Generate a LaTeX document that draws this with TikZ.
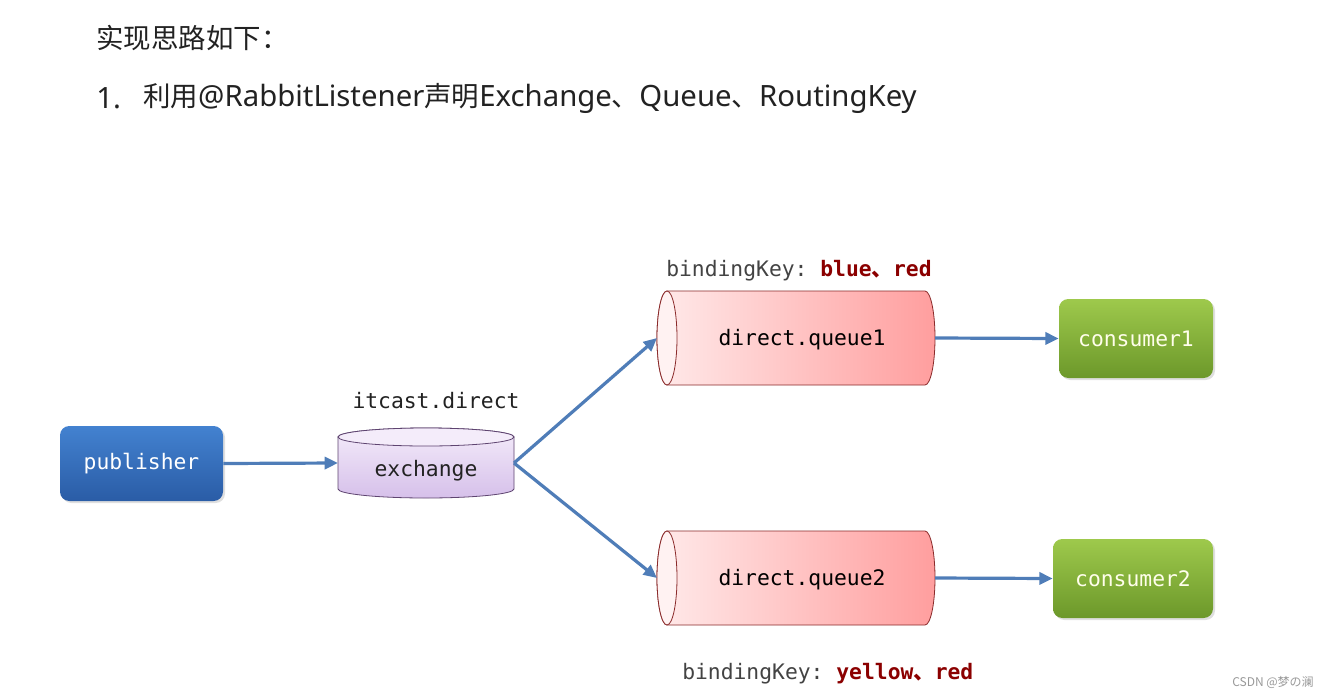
\documentclass[tikz,border=0pt]{standalone}
\usepackage{fontspec}
\setmonofont{DejaVu Sans Mono}
\newfontfamily\cjk{Noto Sans CJK SC}
\newfontfamily\lat{Noto Sans}
\newcommand{\latbig}{\lat\fontsize{22pt}{24pt}\selectfont}
\usetikzlibrary{arrows.meta,shadows}
\definecolor{arrowblue}{HTML}{4F7DB8}
\definecolor{pubtop}{HTML}{4382D0}
\definecolor{pubbot}{HTML}{2A5CA6}
\definecolor{contop}{HTML}{9EC94C}
\definecolor{conbot}{HTML}{6C982A}
\definecolor{exlight}{HTML}{F4ECFA}
\definecolor{exdark}{HTML}{D6C0EA}
\definecolor{exline}{HTML}{5E4470}
\definecolor{qleft}{HTML}{FFEAEA}
\definecolor{qright}{HTML}{FF9E9E}
\definecolor{qline}{HTML}{8A2A2A}
\definecolor{keyred}{HTML}{8B0000}
\definecolor{txt}{HTML}{222222}
\tikzset{
  mono/.style={font=\fontsize{16pt}{18pt}\selectfont\ttfamily},
  boxnode/.style={rounded corners=7pt, mono, text=white,
     drop shadow={opacity=0.25, shadow xshift=1.5pt, shadow yshift=-1.5pt}},
  pubbox/.style={boxnode, top color=pubtop, bottom color=pubbot},
  conbox/.style={boxnode, top color=contop, bottom color=conbot, text=white!92!yellow},
  ghost/.style={inner sep=0pt, outer sep=0pt},
  flow/.style={draw=arrowblue, line width=2.4pt, -{Triangle[length=10pt,width=9pt]}},
  label/.style={mono, text=txt, inner sep=0pt},
  heading/.style={anchor=west, font=\cjk\fontsize{20.6pt}{24pt}\selectfont, text=txt, inner sep=0pt},
}
\begin{document}
\begin{tikzpicture}[x=0.75pt,y=-0.75pt]
\fill[white] (0,0) rectangle (1329,697);
\useasboundingbox (0,0) rectangle (1329,697);

% title
\node[heading] (title) at (96,38) {实现思路如下：};
\node[heading] (num) at (96,98) {\latbig 1.};
\node[heading] (line1) at (143,98) {利用{\latbig @RabbitListener}声明{\latbig Exchange}、{\latbig Queue}、{\latbig RoutingKey}};

% publisher
\node[pubbox, minimum width=122.25pt, minimum height=56.25pt] (pub) at (141.5,463.5) {publisher};

% exchange cylinder
\path[top color=exlight, bottom color=exdark, draw=exline, line width=0.6pt]
  (338,437) -- (338,489) arc (180:0:88 and 9) -- (514,437) arc (0:-180:88 and 9) -- cycle;
\draw[fill=exlight, draw=exline, line width=0.6pt] (426,437) ellipse (88 and 9);
\node[ghost, minimum width=132pt, minimum height=52.5pt] (ex) at (426,463) {};
\node[label] (ext) at (426,471) {exchange};
\node[label] (exname) at (436,401) {itcast.direct};

% queue cylinders
\foreach \y in {338, 578}{
  \path[left color=qleft, right color=qright, draw=qline, line width=0.6pt]
    (667,\y-47) -- (925,\y-47) arc (-90:90:10 and 47) -- (667,\y+47) arc (90:270:10 and 47) -- cycle;
  \draw[fill=qleft!60!white, draw=qline, line width=0.6pt] (667,\y) ellipse (10 and 47);
}
\node[ghost, minimum width=208.5pt, minimum height=70.5pt] (q1) at (796,338) {};
\node[ghost, minimum width=208.5pt, minimum height=70.5pt] (q2) at (796,578) {};
\node[label, text=black] (q1t) at (802,340) {direct.queue1};
\node[label, text=black] (q2t) at (802,580) {direct.queue2};

% consumers
\node[conbox, minimum width=115.5pt, minimum height=59.25pt] (c1) at (1136,338.5) {consumer1};
\node[conbox, minimum width=120pt, minimum height=59.25pt] (c2) at (1133,578.5) {consumer2};

% binding keys
\node[label, anchor=west, text=txt!85!white] (bk1) at (666,271)
  {bindingKey: \textcolor{keyred}{\bfseries blue{\cjk 、}red}};
\node[label, anchor=west, text=txt!85!white] (bk2) at (682,674)
  {bindingKey: \textcolor{keyred}{\bfseries yellow{\cjk 、}red}};

% arrows
\draw[flow] (pub.east) -- (ex.west);
\draw[flow] (ex.east) -- (q1.west);
\draw[flow] (ex.east) -- (q2.west);
\draw[flow] (q1.east) -- (c1.west);
\draw[flow] (q2.east) -- (c2.west);

% watermark
\node[anchor=east, font=\cjk\fontsize{9pt}{10pt}\selectfont, text=gray!80, inner sep=0pt] (wm) at (1314,682) {CSDN @梦の澜};
\end{tikzpicture}
\end{document}
